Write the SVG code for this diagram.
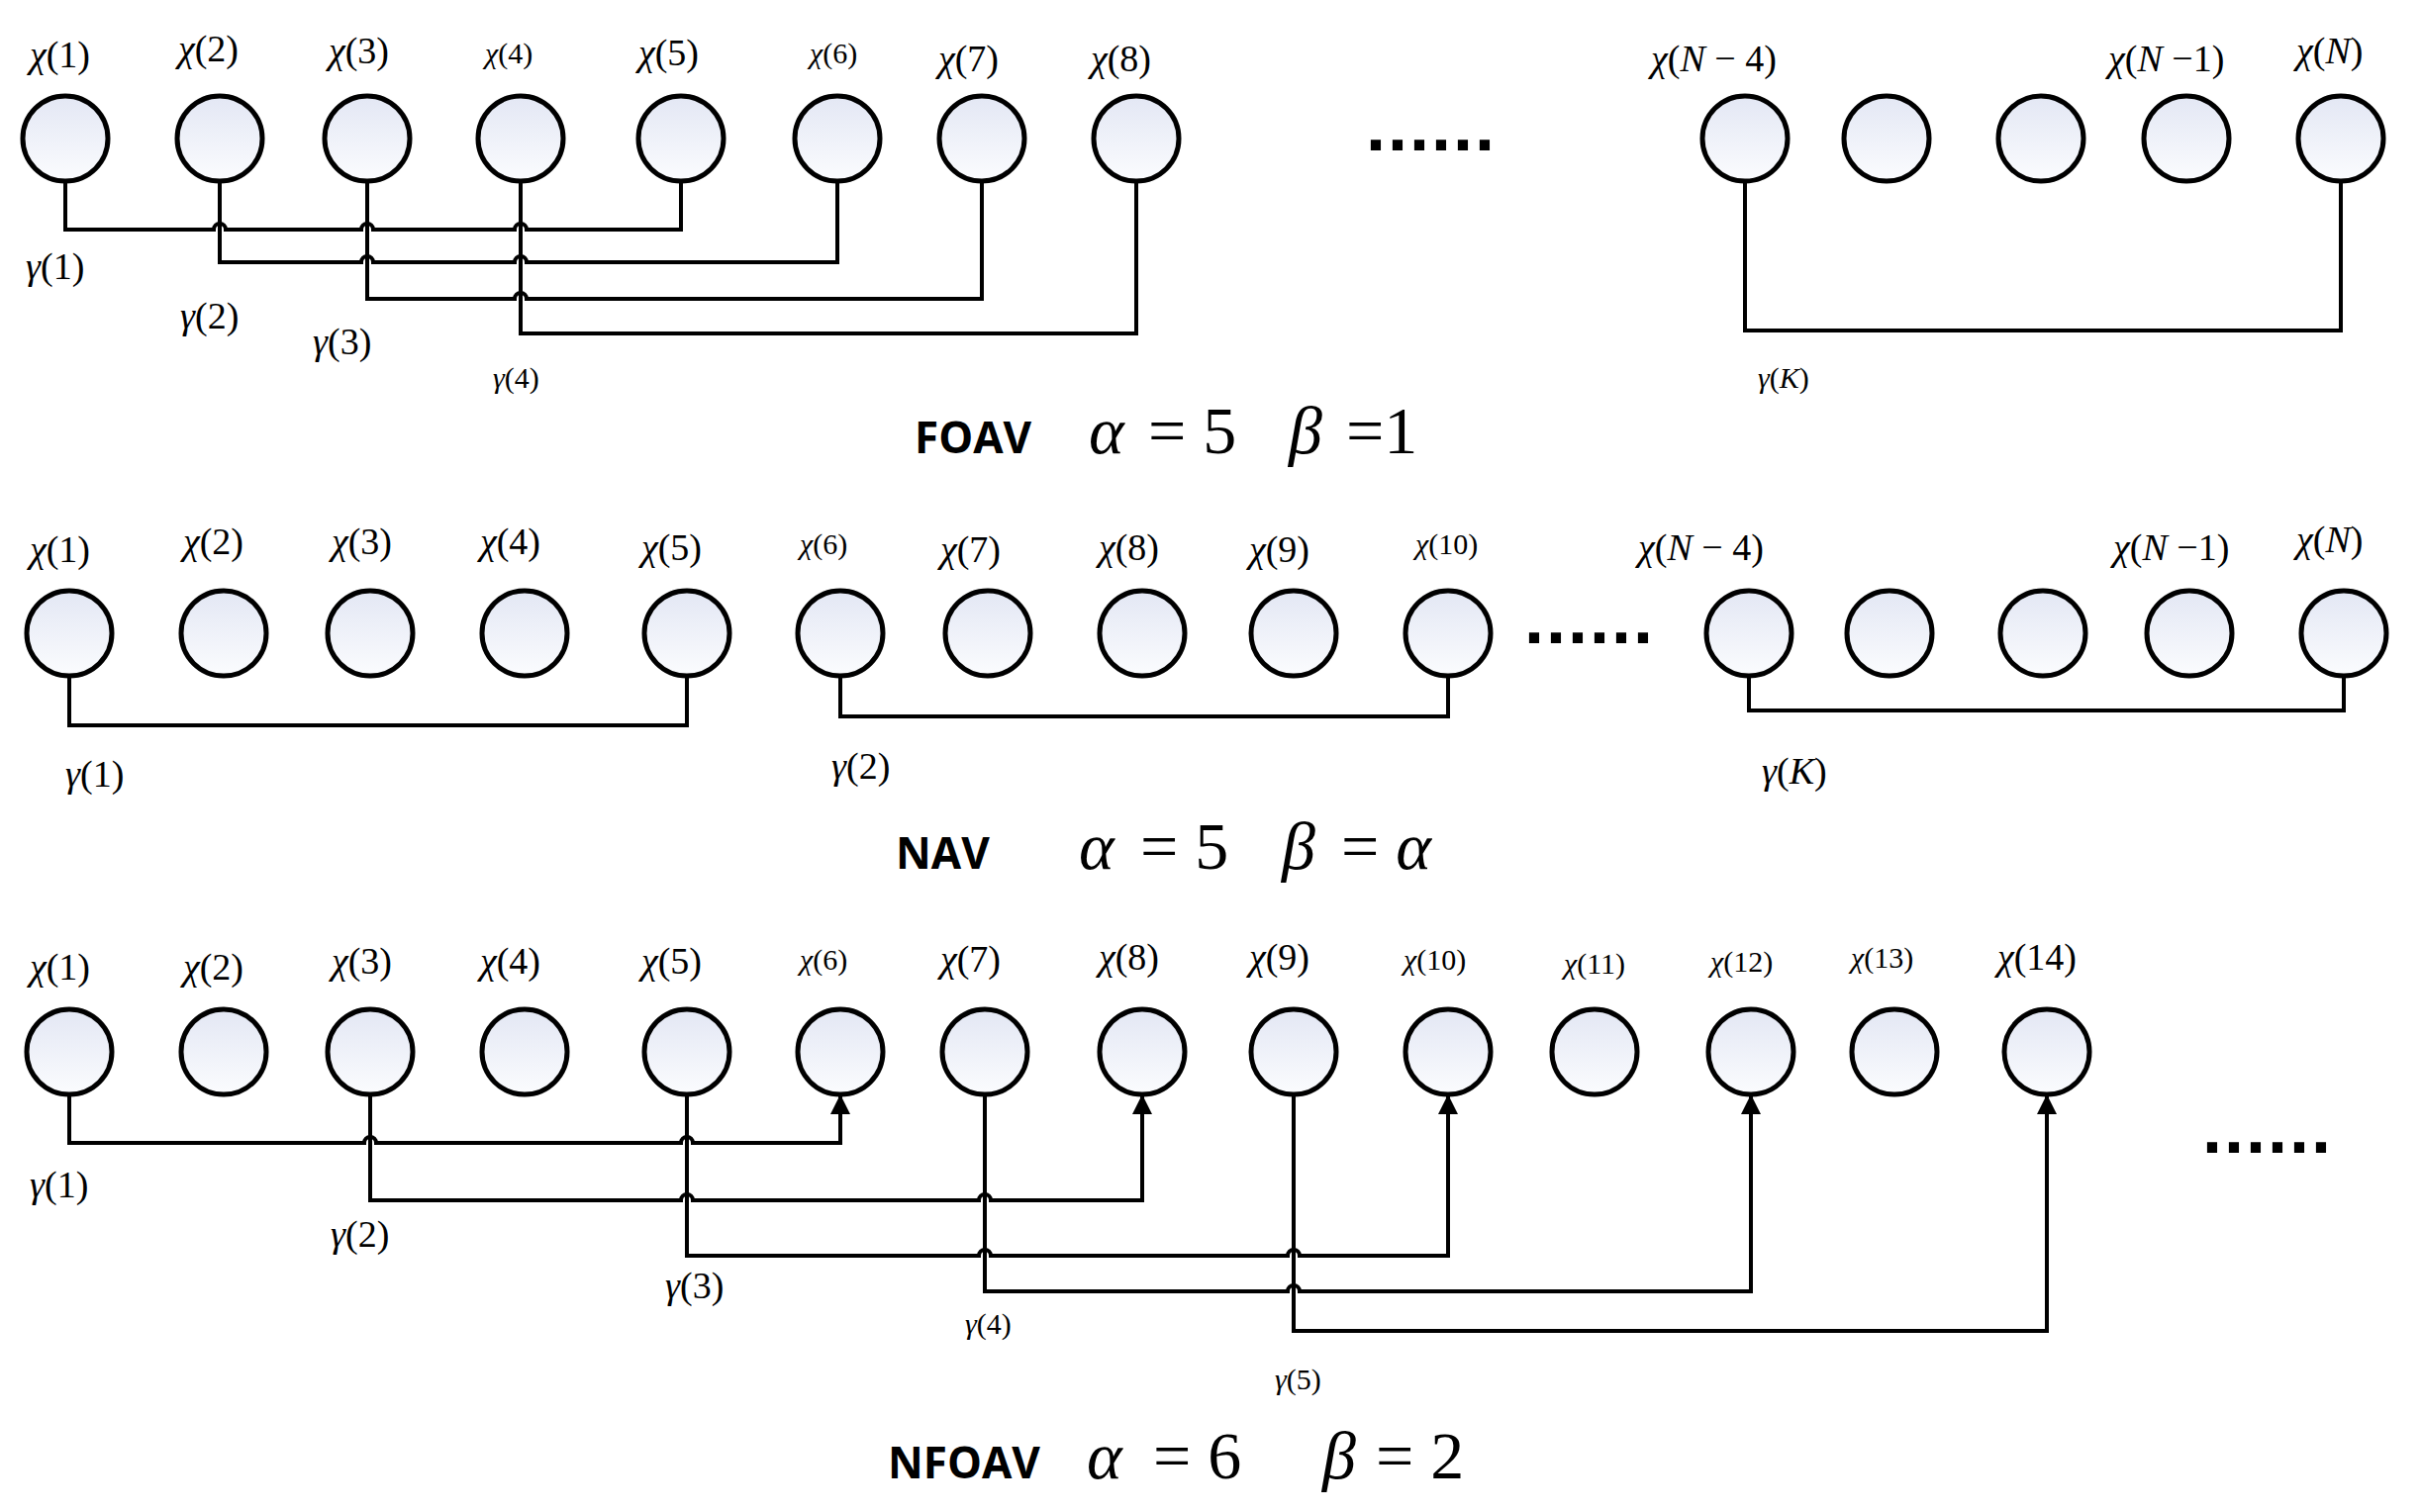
<svg xmlns="http://www.w3.org/2000/svg" width="2446" height="1528" viewBox="0 0 2446 1528">
<defs>
<linearGradient id="g" x1="0" y1="0" x2="0" y2="1"><stop offset="0" stop-color="#e3e7f4"/><stop offset="1" stop-color="#fbfcfe"/></linearGradient>
<marker id="ar" viewBox="0 0 10 10" refX="9" refY="5" markerWidth="5" markerHeight="5" orient="auto" markerUnits="strokeWidth"><path d="M0,0 L10,5 L0,10 z" fill="#000"/></marker>
<style>
circle{fill:url(#g);stroke:#000;stroke-width:5}
.c path{fill:none;stroke:#000;stroke-width:4}
text{font-family:"Liberation Serif",serif;font-size:38px}
.i{font-style:italic}
.s{font-size:30px}
.t{font-family:"Open Sans","DejaVu Sans",sans-serif;font-weight:bold;font-size:44px}
.m{font-size:68px}
.d{font-family:"Liberation Sans",sans-serif;font-size:72px;font-weight:bold;letter-spacing:2px}
</style>
</defs>
<rect width="2446" height="1528" fill="#fff"/>
<g id="row1-nodes">
<circle cx="66" cy="140" r="43"/><circle cx="222" cy="140" r="43"/><circle cx="371" cy="140" r="43"/><circle cx="526" cy="140" r="43"/><circle cx="688" cy="140" r="43"/><circle cx="846" cy="140" r="43"/><circle cx="992" cy="140" r="43"/><circle cx="1148" cy="140" r="43"/>
<circle cx="1763" cy="140" r="43"/><circle cx="1906" cy="140" r="43"/><circle cx="2062" cy="140" r="43"/><circle cx="2209" cy="140" r="43"/><circle cx="2365" cy="140" r="43"/>
</g>
<g id="row2-nodes">
<circle cx="70" cy="640" r="43"/><circle cx="226" cy="640" r="43"/><circle cx="374" cy="640" r="43"/><circle cx="530" cy="640" r="43"/><circle cx="694" cy="640" r="43"/><circle cx="849" cy="640" r="43"/><circle cx="998" cy="640" r="43"/><circle cx="1154" cy="640" r="43"/><circle cx="1307" cy="640" r="43"/><circle cx="1463" cy="640" r="43"/>
<circle cx="1767" cy="640" r="43"/><circle cx="1909" cy="640" r="43"/><circle cx="2064" cy="640" r="43"/><circle cx="2212" cy="640" r="43"/><circle cx="2368" cy="640" r="43"/>
</g>
<g id="row3-nodes">
<circle cx="70" cy="1063" r="43"/><circle cx="226" cy="1063" r="43"/><circle cx="374" cy="1063" r="43"/><circle cx="530" cy="1063" r="43"/><circle cx="694" cy="1063" r="43"/><circle cx="849" cy="1063" r="43"/><circle cx="995" cy="1063" r="43"/><circle cx="1154" cy="1063" r="43"/><circle cx="1307" cy="1063" r="43"/><circle cx="1463" cy="1063" r="43"/><circle cx="1611" cy="1063" r="43"/><circle cx="1769" cy="1063" r="43"/><circle cx="1914" cy="1063" r="43"/><circle cx="2068" cy="1063" r="43"/>
</g>
<g id="connectors" class="c">
<path d="M66,183 V232 H216 A6 6 0 0 1 228 232 H365 A6 6 0 0 1 377 232 H520 A6 6 0 0 1 532 232 H688 V183"/>
<path d="M222,183 V265 H365 A6 6 0 0 1 377 265 H520 A6 6 0 0 1 532 265 H846 V183"/>
<path d="M371,183 V302 H520 A6 6 0 0 1 532 302 H992 V183"/>
<path d="M526,183 V337 H1148 V183"/>
<path d="M1763,183 V334 H2365 V183"/>
<path d="M70,683 V733 H694 V683"/>
<path d="M849,683 V724 H1463 V683"/>
<path d="M1767,683 V718 H2368 V683"/>
<path d="M70,1106 V1155 H368 A6 6 0 0 1 380 1155 H688 A6 6 0 0 1 700 1155 H849 V1108" marker-end="url(#ar)"/>
<path d="M374,1106 V1213 H688 A6 6 0 0 1 700 1213 H989 A6 6 0 0 1 1001 1213 H1154 V1108" marker-end="url(#ar)"/>
<path d="M694,1106 V1269 H989 A6 6 0 0 1 1001 1269 H1301 A6 6 0 0 1 1313 1269 H1463 V1108" marker-end="url(#ar)"/>
<path d="M995,1106 V1305 H1301 A6 6 0 0 1 1313 1305 H1769 V1108" marker-end="url(#ar)"/>
<path d="M1307,1106 V1345 H2068 V1108" marker-end="url(#ar)"/>
</g>
<g id="labels">
<text x="30" y="68"><tspan class="i">χ</tspan>(1)</text>
<text x="180" y="62"><tspan class="i">χ</tspan>(2)</text>
<text x="332" y="64"><tspan class="i">χ</tspan>(3)</text>
<text x="490" y="64" class="s"><tspan class="i">χ</tspan>(4)</text>
<text x="645" y="66"><tspan class="i">χ</tspan>(5)</text>
<text x="818" y="64" class="s"><tspan class="i">χ</tspan>(6)</text>
<text x="948" y="72"><tspan class="i">χ</tspan>(7)</text>
<text x="1102" y="72"><tspan class="i">χ</tspan>(8)</text>
<text x="1668" y="72"><tspan class="i">χ</tspan>(<tspan class="i">N</tspan> − 4)</text>
<text x="2130" y="72"><tspan class="i">χ</tspan>(<tspan class="i">N</tspan> −1)</text>
<text x="2320" y="64"><tspan class="i">χ</tspan>(<tspan class="i">N</tspan>)</text>
<text x="1380" y="152" class="d">......</text>
<text x="26" y="282"><tspan class="i">γ</tspan>(1)</text>
<text x="182" y="332"><tspan class="i">γ</tspan>(2)</text>
<text x="316" y="358"><tspan class="i">γ</tspan>(3)</text>
<text x="498" y="392" class="s"><tspan class="i">γ</tspan>(4)</text>
<text x="1776" y="392" class="s"><tspan class="i">γ</tspan>(<tspan class="i">K</tspan>)</text>
<text x="924" y="458" class="t">FOAV</text>
<text x="1100" y="458" class="m i">α</text>
<text x="1160" y="458" class="m">= 5</text>
<text x="1302" y="458" class="m i">β</text>
<text x="1360" y="458" class="m">=1</text>

<text x="30" y="568"><tspan class="i">χ</tspan>(1)</text>
<text x="185" y="560"><tspan class="i">χ</tspan>(2)</text>
<text x="335" y="560"><tspan class="i">χ</tspan>(3)</text>
<text x="485" y="560"><tspan class="i">χ</tspan>(4)</text>
<text x="648" y="566"><tspan class="i">χ</tspan>(5)</text>
<text x="808" y="560" class="s"><tspan class="i">χ</tspan>(6)</text>
<text x="950" y="568"><tspan class="i">χ</tspan>(7)</text>
<text x="1110" y="566"><tspan class="i">χ</tspan>(8)</text>
<text x="1262" y="568"><tspan class="i">χ</tspan>(9)</text>
<text x="1430" y="560" class="s"><tspan class="i">χ</tspan>(10)</text>
<text x="1655" y="566"><tspan class="i">χ</tspan>(<tspan class="i">N</tspan> − 4)</text>
<text x="2135" y="566"><tspan class="i">χ</tspan>(<tspan class="i">N</tspan> −1)</text>
<text x="2320" y="558"><tspan class="i">χ</tspan>(<tspan class="i">N</tspan>)</text>
<text x="1540" y="650" class="d">......</text>
<text x="66" y="795"><tspan class="i">γ</tspan>(1)</text>
<text x="840" y="787"><tspan class="i">γ</tspan>(2)</text>
<text x="1780" y="792"><tspan class="i">γ</tspan>(<tspan class="i">K</tspan>)</text>
<text x="905" y="878" class="t">NAV</text>
<text x="1090" y="878" class="m i">α</text>
<text x="1152" y="878" class="m">= 5</text>
<text x="1295" y="878" class="m i">β</text>
<text x="1355" y="878" class="m">= <tspan class="i">α</tspan></text>

<text x="30" y="990"><tspan class="i">χ</tspan>(1)</text>
<text x="185" y="990"><tspan class="i">χ</tspan>(2)</text>
<text x="335" y="984"><tspan class="i">χ</tspan>(3)</text>
<text x="485" y="984"><tspan class="i">χ</tspan>(4)</text>
<text x="648" y="984"><tspan class="i">χ</tspan>(5)</text>
<text x="808" y="980" class="s"><tspan class="i">χ</tspan>(6)</text>
<text x="950" y="982"><tspan class="i">χ</tspan>(7)</text>
<text x="1110" y="980"><tspan class="i">χ</tspan>(8)</text>
<text x="1262" y="980"><tspan class="i">χ</tspan>(9)</text>
<text x="1418" y="980" class="s"><tspan class="i">χ</tspan>(10)</text>
<text x="1580" y="984" class="s"><tspan class="i">χ</tspan>(11)</text>
<text x="1728" y="982" class="s"><tspan class="i">χ</tspan>(12)</text>
<text x="1870" y="978" class="s"><tspan class="i">χ</tspan>(13)</text>
<text x="2018" y="980"><tspan class="i">χ</tspan>(14)</text>
<text x="2225" y="1165" class="d">......</text>
<text x="30" y="1210"><tspan class="i">γ</tspan>(1)</text>
<text x="334" y="1260"><tspan class="i">γ</tspan>(2)</text>
<text x="672" y="1312"><tspan class="i">γ</tspan>(3)</text>
<text x="975" y="1348" class="s"><tspan class="i">γ</tspan>(4)</text>
<text x="1288" y="1404" class="s"><tspan class="i">γ</tspan>(5)</text>
<text x="897" y="1494" class="t">NFOAV</text>
<text x="1098" y="1494" class="m i">α</text>
<text x="1165" y="1494" class="m">= 6</text>
<text x="1336" y="1494" class="m i">β</text>
<text x="1390" y="1494" class="m">= 2</text>
</g>
</svg>
